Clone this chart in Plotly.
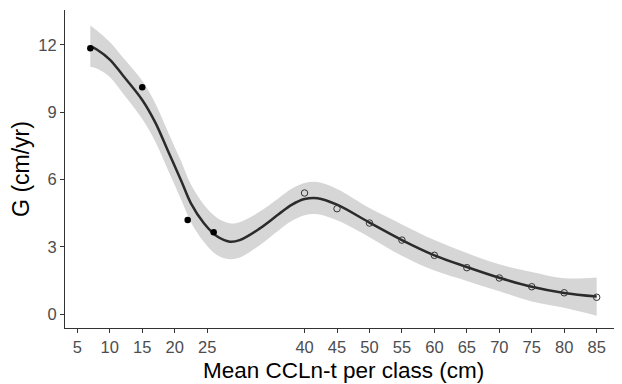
import plotly.graph_objects as go

# Observed points
x_filled = [7, 15, 22, 26]
y_filled = [11.85, 10.12, 4.2, 3.65]
x_open = [40, 45, 50, 55, 60, 65, 70, 75, 80, 85]
y_open = [5.4, 4.7, 4.06, 3.3, 2.62, 2.07, 1.61, 1.22, 0.95, 0.75]

# Smoothed fit and confidence band
x_fit = [7, 8, 10, 12, 15, 17, 19, 21, 22.5, 24.5, 26.5, 28.5, 30, 33, 36, 38, 40, 42, 45, 50, 55, 60, 65, 70, 75, 80, 85]
y_fit = [11.95, 11.8, 11.35, 10.65, 9.55, 8.55, 7.25, 5.95, 4.94, 4.05, 3.47, 3.23, 3.3, 3.8, 4.45, 4.87, 5.13, 5.17, 4.88, 4.08, 3.3, 2.62, 2.1, 1.62, 1.22, 0.94, 0.78]
y_upper = [12.87, 12.65, 12.13, 11.45, 10.4, 9.4, 8.1, 6.8, 5.78, 4.88, 4.3, 4.05, 4.1, 4.55, 5.17, 5.59, 5.85, 5.89, 5.58, 4.73, 4.0, 3.3, 2.72, 2.22, 1.88, 1.6, 1.63]
y_lower = [11.03, 10.95, 10.57, 9.85, 8.7, 7.7, 6.4, 5.1, 4.1, 3.22, 2.64, 2.45, 2.52, 3.05, 3.73, 4.15, 4.41, 4.45, 4.18, 3.43, 2.6, 1.94, 1.48, 1.02, 0.56, 0.28, -0.07]

x_ticks = [5, 10, 15, 20, 25, 40, 45, 50, 55, 60, 65, 70, 75, 80, 85]
y_ticks = [0, 3, 6, 9, 12]
x_title = "Mean CCLn-t per class (cm)"
y_title = "G (cm/yr)"

FONT = "Liberation Sans, Arial, sans-serif"
W, H = 614, 376
ML, MR, MT, MB = 57, 0, 2, 56

fig = go.Figure()
fig.add_trace(go.Scatter(x=x_fit, y=y_upper, mode="lines", line=dict(width=0, shape="spline"),
                         hoverinfo="skip", showlegend=False))
fig.add_trace(go.Scatter(x=x_fit, y=y_lower, mode="lines", line=dict(width=0, shape="spline"),
                         fill="tonexty", fillcolor="#d6d6d6", hoverinfo="skip", showlegend=False))
fig.add_trace(go.Scatter(x=x_fit, y=y_fit, mode="lines",
                         line=dict(color="#2b2b2b", width=2.5, shape="spline"), showlegend=False))
fig.add_trace(go.Scatter(x=x_filled, y=y_filled, mode="markers",
                         marker=dict(color="black", size=6.5), showlegend=False))
fig.add_trace(go.Scatter(x=x_open, y=y_open, mode="markers",
                         marker=dict(color="#333333", size=6.5, symbol="circle-open",
                                     line=dict(width=1)), showlegend=False))

axis_common = dict(showgrid=False, zeroline=False, showline=True, linecolor="#333333", linewidth=1,
                   ticks="outside", ticklen=4, tickcolor="#333333",
                   tickfont=dict(family=FONT, size=16.5, color="#4d4d4d"))

plot_h = H - MT - MB
fig.add_annotation(text=x_title, xref="paper", yref="paper", x=0.5, y=-MB / plot_h,
                   xanchor="center", yanchor="bottom", showarrow=False, borderpad=0,
                   font=dict(family=FONT, size=22.5, color="black"))

fig.update_layout(
    width=W, height=H,
    margin=dict(l=ML, r=MR, t=MT, b=MB),
    paper_bgcolor="white", plot_bgcolor="white",
    xaxis=dict(range=[3.1, 88.9], tickvals=x_ticks, **axis_common),
    yaxis=dict(range=[-0.62, 13.56], tickvals=y_ticks,
               title=dict(text=y_title, standoff=8,
                          font=dict(family=FONT, size=23, color="black")),
               **axis_common),
)

fig.write_html("out.html")
